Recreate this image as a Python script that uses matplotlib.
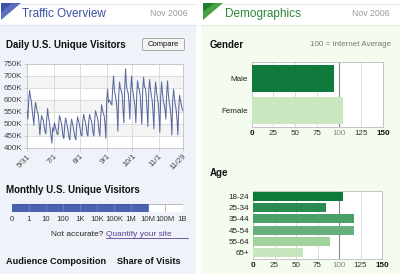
import matplotlib
matplotlib.use("Agg")
import matplotlib.pyplot as plt
import numpy as np
import pandas as pd
from matplotlib.patches import Rectangle, Polygon, FancyBboxPatch

plt.rcParams['font.family'] = ['Liberation Sans', 'DejaVu Sans']

# ---------------- data ----------------
start_date = "2006-05-31"
daily_visitors_k = [
    555,
    520, 600, 640, 615, 595, 560, 530,
    495, 560, 590, 570, 550, 540, 505,
    455, 500, 535, 525, 515, 490, 470,
    460, 520, 565, 530, 510, 480, 450,
    420, 485, 470, 505, 490, 475, 460,
    455, 500, 535, 520, 505, 480, 450,
    440, 495, 525, 510, 490, 470, 445,
    435, 490, 520, 505, 485, 465, 445,
    435, 495, 530, 515, 500, 480, 455,
    450, 505, 540, 525, 510, 490, 460,
    450, 510, 540, 525, 515, 495, 465,
    450, 520, 555, 540, 530, 510, 470,
    450, 530, 580, 560, 545, 535, 500,
    440, 600, 645, 590, 600, 595, 585,
    580, 650, 700, 640, 620, 600, 560,
    470, 620, 675, 645, 640, 625, 560,
    505, 650, 730, 660, 640, 630, 590,
    520, 640, 700, 645, 625, 600, 570,
    505, 620, 680, 650, 645, 620, 560,
    500, 640, 695, 655, 650, 620, 560,
    490, 630, 685, 650, 620, 600, 550,
    480, 620, 675, 640, 610, 590, 540,
    465, 615, 675, 630, 600, 580, 560,
    520, 630, 680, 620, 590, 570, 530,
    455, 600, 645, 610, 580, 560, 520,
    455, 560, 620, 600, 580, 565, 555,
]
y_ticks_k = [400, 450, 500, 550, 600, 650, 700, 750]
x_tick_dates = ["2006-05-31", "2006-07-01", "2006-08-01", "2006-09-01",
                "2006-10-01", "2006-11-01", "2006-11-29"]
x_tick_labels = ["5/31", "7/1", "8/1", "9/1", "10/1", "11/1", "11/29"]

monthly_visitors = 1e7
monthly_scale_labels = ["0", "1", "10", "100", "1K", "10K", "100K", "1M", "10M", "100M", "1B"]

gender_labels = ["Male", "Female"]
gender_index = [94, 104]
gender_colors = ["#0f7a3b", "#cbe7bf"]

age_labels = ["18-24", "25-34", "35-44", "45-54", "55-64", "65+"]
age_index = [105, 85, 117, 118, 89, 58]
age_colors = ["#0e7a3a", "#2b8a4e", "#4b9f68", "#66b07f", "#a2d29c", "#c8e6bd"]

index_ticks = [0, 25, 50, 75, 100, 125, 150]

# ---------------- figure ----------------
W, H = 400, 274
fig = plt.figure(figsize=(W / 100, H / 100), dpi=100)
fig.patch.set_facecolor("white")


def rect(x0, y0, x1, y1):
    return [x0 / W, 1 - y1 / H, (x1 - x0) / W, (y1 - y0) / H]


bg = fig.add_axes([0, 0, 1, 1])
bg.set_xlim(0, W)
bg.set_ylim(H, 0)
bg.axis("off")

# panels
bg.add_patch(Rectangle((0, 25), 196, H - 25, facecolor="#eff2f9", edgecolor="none"))
bg.add_patch(Rectangle((201, 25), W - 201, H - 25, facecolor="#f4fbef", edgecolor="none"))
bg.plot([20, 195], [3.5, 3.5], color="#e4e6ec", lw=0.8)
bg.plot([222, 398], [3.5, 3.5], color="#e4e6ec", lw=0.8)
bg.plot([0, 196], [25, 25], color="#dfe3ee", lw=0.8)
bg.plot([201, 400], [25, 25], color="#e1ecdc", lw=0.8)

# header triangles
bg.add_patch(Polygon([(1, 3), (21, 3), (1, 20)], closed=True, facecolor="#5a6fc0", edgecolor="none"))
bg.add_patch(Polygon([(1, 3), (12, 3), (1, 12)], closed=True, facecolor="#3c54a8", edgecolor="none"))
bg.add_patch(Polygon([(203, 3), (223, 3), (203, 20)], closed=True, facecolor="#47a247", edgecolor="none"))
bg.add_patch(Polygon([(203, 3), (214, 3), (203, 12)], closed=True, facecolor="#1f7f2a", edgecolor="none"))

bg.text(22, 14, "Traffic Overview", fontsize=8.5, color="#3a52a3", va="center", ha="left")
bg.text(188, 14, "Nov 2006", fontsize=6.3, color="#9a9a9a", va="center", ha="right")
bg.text(225, 14, "Demographics", fontsize=8.5, color="#2a883b", va="center", ha="left")
bg.text(390, 14, "Nov 2006", fontsize=6.3, color="#9a9a9a", va="center", ha="right")

bg.text(6, 44.5, "Daily U.S. Unique Visitors", fontsize=7, fontweight="bold", color="#111", va="center")
bg.add_patch(FancyBboxPatch((142.5, 38.5), 42, 12, boxstyle="round,pad=0,rounding_size=1.5",
                            facecolor="#f4f4f4", edgecolor="#a8a8a8", lw=0.7))
bg.text(163.5, 44.7, "Compare", fontsize=5.5, color="#111", va="center", ha="center")

bg.text(6, 190, "Monthly U.S. Unique Visitors", fontsize=7, fontweight="bold", color="#111", va="center")
bg.text(103, 234, "Not accurate?", fontsize=6, color="#222", va="center", ha="right")
bg.text(106, 234, "Quantify your site", fontsize=6, color="#5b3f95", va="center", ha="left")
bg.plot([106, 188], [237.8, 237.8], color="#5b3f95", lw=0.6)
bg.text(6, 262, "Audience Composition", fontsize=6.6, fontweight="bold", color="#111", va="center")
bg.text(117, 262, "Share of Visits", fontsize=6.6, fontweight="bold", color="#111", va="center")

bg.text(210, 44.5, "Gender", fontsize=7, fontweight="bold", color="#111", va="center")
bg.text(391, 44.5, "100 = Internet Average", fontsize=5.8, color="#777", va="center", ha="right")
bg.text(210, 173.5, "Age", fontsize=7, fontweight="bold", color="#111", va="center")

# ---------------- daily line chart ----------------
ax = fig.add_axes(rect(27, 64, 183, 148))
dates = pd.date_range(start_date, periods=len(daily_visitors_k), freq="D")
ax.set_facecolor("white")
for i in range(len(y_ticks_k) - 1):
    if i % 2 == 1:
        ax.axhspan(y_ticks_k[i], y_ticks_k[i + 1], color="#f4f4f4", lw=0, zorder=0)
ax.plot(dates, daily_visitors_k, color="#5a6aa0", lw=0.75, zorder=3)
ax.set_xlim(dates[0], dates[-1])
ax.set_ylim(y_ticks_k[0], y_ticks_k[-1])
ax.set_yticks(y_ticks_k)
ax.set_yticklabels([f"{v}K" for v in y_ticks_k], fontsize=5.8, color="#444")
tick_dt = pd.to_datetime(x_tick_dates)
ax.set_xticks(tick_dt)
ax.set_xticklabels(x_tick_labels, fontsize=5.8, color="#444", rotation=45,
                   ha="right", va="top", rotation_mode="anchor")
ax.grid(True, color="#dcdcdc", lw=0.7, zorder=1)
ax.tick_params(length=2, width=0.5, color="#bbb", pad=1.5)
for s in ax.spines.values():
    s.set_color("#c8c8c8")
    s.set_linewidth(0.7)

# ---------------- monthly scale bar ----------------
axm = fig.add_axes(rect(11.5, 204, 182.5, 212))
npos = len(monthly_scale_labels) - 1
pos = 1 + np.log10(monthly_visitors)
axm.set_xlim(0, npos)
axm.set_ylim(0, 1)
axm.add_patch(Rectangle((0, 0), npos, 1, facecolor="white", edgecolor="#b8b8b8", lw=0.7))
axm.barh([0.5], [pos], height=1.0, left=0, color="#4a60b0", edgecolor="#3d4f99", lw=0.6)
for k in range(1, npos):
    c = "#b8b8b8" if k > pos else "#6f80c2"
    axm.plot([k, k], [0, 1], color=c, lw=0.6)
axm.set_xticks(range(npos + 1))
axm.set_xticklabels(monthly_scale_labels, fontsize=5.6, color="#333")
axm.tick_params(length=0, pad=3)
axm.set_yticks([])
for s in axm.spines.values():
    s.set_visible(False)


# ---------------- demographic bars ----------------
def index_axes(r, labels, values, colors, height):
    a = fig.add_axes(r)
    a.set_facecolor("white")
    y = np.arange(len(labels))
    a.barh(y, values, height=height, color=colors, zorder=3)
    a.set_xlim(index_ticks[0], index_ticks[-1])
    a.set_ylim(len(labels) - 0.5, -0.5)
    a.set_yticks(y)
    a.set_yticklabels(labels, fontsize=5.8, color="#222")
    a.set_xticks(index_ticks)
    a.set_xticklabels([str(t) for t in index_ticks], fontsize=5.8, color="#333")
    for t, lab in zip(index_ticks, a.get_xticklabels()):
        if t in (index_ticks[0], index_ticks[-1]):
            lab.set_fontweight("bold")
            lab.set_color("#111")
        elif t == 100:
            lab.set_color("#888")
        if t in (index_ticks[0], index_ticks[-1]):
            continue
        a.axvline(t, color="#888" if t == 100 else "#d6d6d6", lw=0.8 if t == 100 else 0.6, zorder=1)
    a.tick_params(length=0, pad=2.5)
    for s in a.spines.values():
        s.set_color("#c4c4c4")
        s.set_linewidth(0.7)
    return a


index_axes(rect(251.5, 62, 383, 127), gender_labels, gender_index, gender_colors, 0.84)
index_axes(rect(253, 190.5, 382, 258.5), age_labels, age_index, age_colors, 0.77)

fig.savefig("out.png", dpi=100, facecolor=fig.get_facecolor())
